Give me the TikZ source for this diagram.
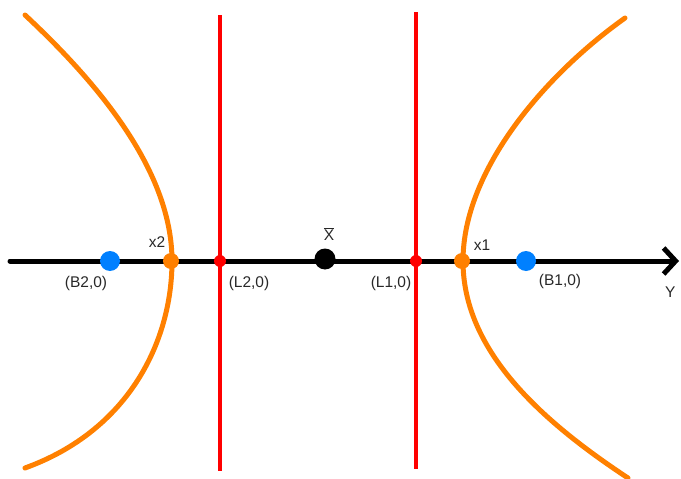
\documentclass[tikz,border=0pt]{standalone}
\usepackage{fontspec}
\setmainfont{Liberation Sans}
\usetikzlibrary{arrows.meta}
\definecolor{hyporange}{RGB}{255,128,0}
\definecolor{ptblue}{RGB}{0,128,255}
\definecolor{lred}{RGB}{255,0,0}
\definecolor{txt}{RGB}{40,40,40}
\tikzset{
  dot/.style={circle,inner sep=0pt,minimum size=#1},
  lbl/.style={inner sep=0pt,text=txt,font=\fontsize{15.5}{18}\selectfont},
  curve/.style={draw=hyporange,line width=5pt,line cap=round},
  limit/.style={draw=lred,line width=4.5pt},
  axis/.style={draw=black,line width=5pt,line cap=round}
}
\begin{document}
\begin{tikzpicture}[x=1pt,y=-1pt]
\useasboundingbox (0,0) rectangle (681,479);
% hyperbola branches
\coordinate (H2t) at (25,15);
\coordinate (H2v) at (172,261);
\coordinate (H2b) at (25,468);
\coordinate (H1t) at (625,18);
\coordinate (H1v) at (463,261);
\coordinate (H1b) at (628,478);
\draw[curve] (H2t) .. controls (100,85) and (172,172) .. (H2v)
                   .. controls (172,340) and (130,430) .. (H2b);
\draw[curve] (H1t) .. controls (545,75) and (463,170) .. (H1v)
                   .. controls (463,350) and (540,420) .. (H1b);
% vertical limit lines
\coordinate (L2t) at (220,15); \coordinate (L2b) at (220,471);
\coordinate (L1t) at (416,12); \coordinate (L1b) at (416,469);
\draw[limit] (L2t) -- (L2b);
\draw[limit] (L1t) -- (L1b);
% axis
\coordinate (axL) at (10,261);
\coordinate (axR) at (679,261);
\draw[axis,-{Straight Barb[length=12pt,width=26pt,line width=5pt]}] (axL) -- (axR);
% points
\node[dot=20pt,fill=ptblue] (B2) at (110,261) {};
\node[dot=16pt,fill=hyporange] (x2) at (171,261) {};
\node[dot=12pt,fill=lred] (L2) at (220,261) {};
\node[dot=21pt,fill=black] (X) at (325,259) {};
\node[dot=12pt,fill=lred] (L1) at (416,261) {};
\node[dot=16pt,fill=hyporange] (x1) at (462,261) {};
\node[dot=20pt,fill=ptblue] (B1) at (526,261) {};
% labels
\node[lbl] (tx2) at (157,242) {x2};
\node[lbl] (tB2) at (86,283) {(B2,0)};
\node[lbl] (tL2) at (249,283) {(L2,0)};
\node[lbl] (tX) at (329,234) {$\overline{\mbox{X}}$};
\node[lbl] (tL1) at (391,283) {(L1,0)};
\node[lbl] (tx1) at (482,245) {x1};
\node[lbl] (tB1) at (560,281) {(B1,0)};
\node[lbl,anchor=west] (tY) at (665,292) {Y};
\end{tikzpicture}
\end{document}
